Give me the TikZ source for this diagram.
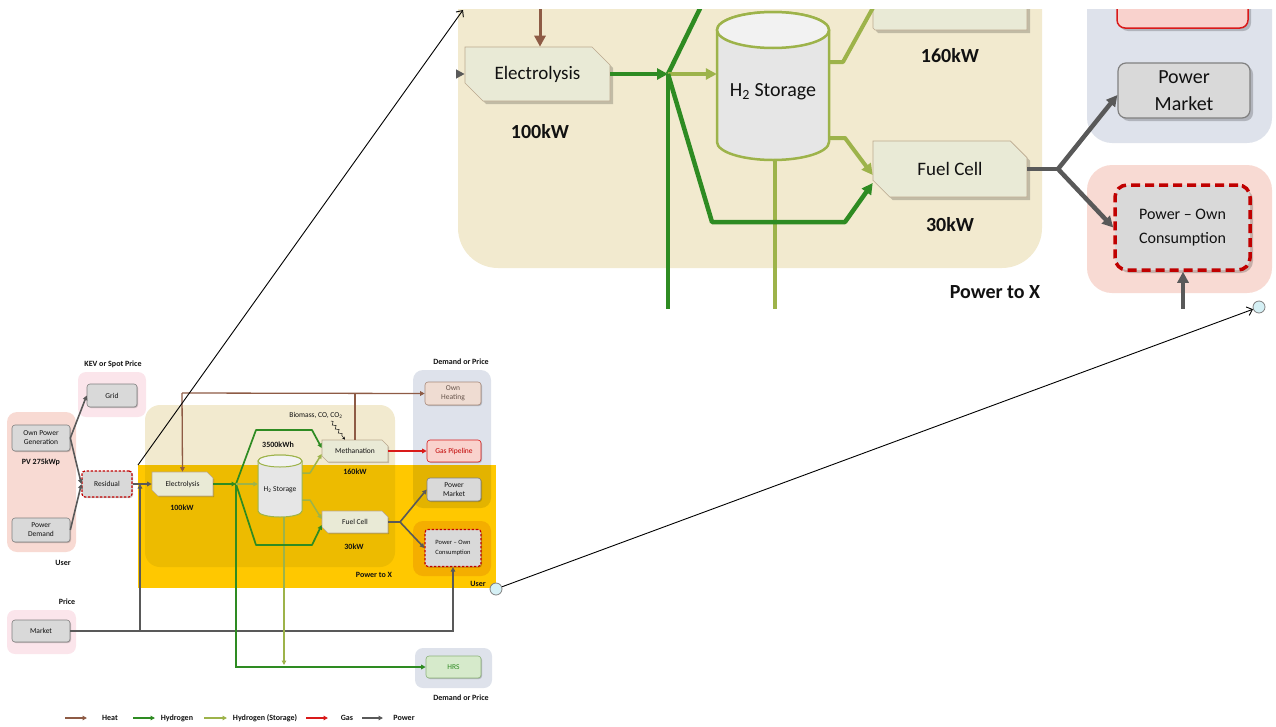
\documentclass[tikz,border=0pt]{standalone}
\usepackage{fontspec}
\setmainfont{Carlito}
\usetikzlibrary{arrows.meta,shapes.misc,shadows,decorations.pathmorphing}
\definecolor{cPow}{HTML}{595959}
\definecolor{cH}{HTML}{2E8B22}
\definecolor{cHS}{HTML}{9DB34A}
\definecolor{cHeat}{HTML}{8E5B45}
\definecolor{cGas}{HTML}{D91A1A}
\definecolor{cRed}{HTML}{C00000}
\definecolor{cProc}{HTML}{E9EAD6}
\definecolor{cProcB}{HTML}{BCA98F}
\definecolor{cGray}{HTML}{D9D9D9}
\definecolor{cGrayB}{HTML}{808080}
\definecolor{cBeige}{HTML}{F2EACF}
\definecolor{cBlue}{HTML}{DEE2EB}
\definecolor{cPink}{HTML}{F8DAD3}
\definecolor{cPinkL}{HTML}{FBE5EB}
\definecolor{cYel}{HTML}{FFC800}
\definecolor{cYelBeige}{HTML}{EDBB00}
\definecolor{cYelBlue}{HTML}{E3B300}
\definecolor{cYelPink}{HTML}{F4AE00}
\definecolor{cTxt}{HTML}{111111}
\definecolor{cCyl}{HTML}{E6E6E6}
\definecolor{cCylTop}{HTML}{F2F2F2}
\definecolor{cHRS}{HTML}{D6EACB}
\definecolor{cHRSB}{HTML}{8DB27A}
\definecolor{cHeatN}{HTML}{EFDCD2}
\definecolor{cHeatNB}{HTML}{A88A7B}
\definecolor{cGasN}{HTML}{F9D2CD}
\definecolor{cCirc}{HTML}{D5F0F5}
\newcommand\fntS{\fontsize{7.5}{9}\selectfont}
\newcommand\fntL{\bfseries\fontsize{8}{9}\selectfont}
\newcommand\fntI{\fontsize{19}{22}\selectfont}
\newcommand\fntIL{\bfseries\fontsize{20}{22}\selectfont}
% cx, ytop-ellipse-centre, ybottom-ellipse-centre, rx, ry, linewidth
\newcommand\mycyl[6]{%
  \filldraw[fill=cCyl, draw=cHS, line width=#6]
    ({#1-#4},#2) -- ({#1-#4},#3)
    arc[start angle=180, end angle=360, x radius=#4pt, y radius=#5pt]
    -- ({#1+#4},#2)
    arc[start angle=0, end angle=180, x radius=#4pt, y radius=#5pt] -- cycle;
  \filldraw[fill=cCylTop, draw=cHS, line width=#6] (#1,#2) ellipse[x radius=#4pt, y radius=#5pt];}
\tikzset{
  shd/.style={drop shadow={shadow xshift=#1, shadow yshift=-#1, opacity=.2, fill=black}},
  gbox/.style={rectangle, rounded corners=3pt, fill=cGray, draw=cGrayB, line width=.6pt,
    inner sep=1pt, align=center, text=cTxt, font=\fntS},
  pbox/.style={chamfered rectangle, chamfered rectangle corners={north east,south west},
    chamfered rectangle xsep=3pt, chamfered rectangle ysep=3pt,
    fill=cProc, draw=cProcB, line width=.6pt, inner sep=1pt, align=center, text=cTxt, font=\fntS},
  lbl/.style={font=\fntL, text=cTxt, inner sep=0pt},
  lblI/.style={font=\fntIL, text=cTxt, inner sep=0pt},
  tipS/.style={-{Triangle[length=4.5pt,width=4.5pt]}},
  tipB/.style={-{Triangle[length=11pt,width=11pt]}},
  pwS/.style={draw=cPow, line width=1.6pt},
  hS/.style={draw=cH, line width=1.7pt},
  hsS/.style={draw=cHS, line width=1.5pt},
  heatS/.style={draw=cHeat, line width=1.3pt},
  gasS/.style={draw=cGas, line width=1.8pt},
  pwB/.style={draw=cPow, line width=4.5pt},
  hB/.style={draw=cH, line width=4.5pt},
  hsB/.style={draw=cHS, line width=4pt},
  heatB/.style={draw=cHeat, line width=3pt},
  call/.style={draw=black, line width=.9pt, -{Straight Barb[length=5pt,width=9pt]}},
  conn/.style={circle, draw=cGrayB, fill=cCirc, minimum size=12pt, inner sep=0pt, line width=.8pt},
}
\begin{document}
\begin{tikzpicture}[x=1pt,y=-1pt]
\useasboundingbox (0,0) rectangle (1276,726);
%================ INSET (enlarged view) ================
\begin{scope}
\clip (456,9) rectangle (1276,308);
\fill[cBeige, rounded corners=40pt] (458,-60) rectangle (1042,268);
\fill[cBlue, rounded corners=25pt] (1087,-60) rectangle (1272,143);
\fill[cPink, rounded corners=25pt] (1087,165) rectangle (1272,293);
\node[pbox, shd=3pt, minimum width=145, minimum height=54, font=\fntI,
  chamfered rectangle xsep=9pt, chamfered rectangle ysep=9pt] (iElec) at (537.5,74) {Electrolysis};
\node[pbox, shd=3pt, minimum width=154, minimum height=54,
  chamfered rectangle xsep=9pt, chamfered rectangle ysep=9pt] (iMeth) at (950,3) {};
\node[pbox, shd=3pt, minimum width=154, minimum height=56, font=\fntI,
  chamfered rectangle xsep=9pt, chamfered rectangle ysep=9pt] (iFC) at (950,169) {Fuel Cell};
\node[gbox, shd=3pt, rounded corners=8pt, fill=cGasN, draw=cGas, line width=1.5pt,
  minimum width=131, minimum height=56] (iGas) at (1182.5,0) {};
\node[gbox, shd=3pt, rounded corners=8pt, line width=1.2pt, minimum width=132, minimum height=55,
  font=\fontsize{20}{27}\selectfont] (iPM) at (1184,90.5) {Power\\Market};
\node[gbox, shd=3pt, rounded corners=12pt, draw=cRed, dashed, dash pattern=on 9pt off 5pt,
  line width=3.5pt, minimum width=135, minimum height=85,
  font=\fontsize{16}{24}\selectfont] (iPOC) at (1182.5,227.5) {Power -- Own\\Consumption};
\node[rectangle, minimum width=112, minimum height=148, inner sep=0pt] (iStor) at (773,86) {};
\mycyl{773}{30}{142}{56}{18}{2.5pt}
\node[font=\fontsize{20}{22}\selectfont, text=cTxt] (iStorT) at (773,92) {H\textsubscript{2} Storage};
\coordinate (iHeat) at (540,0);
\coordinate (iResIn) at (430,74);
\coordinate (iJ) at (668,74);
\coordinate (iUp) at (709,-10);
\coordinate (iG1) at (712,222);
\coordinate (iG2) at (845,222);
\coordinate (iS1) at (843,62);
\coordinate (iS2) at (845,138);
\coordinate (iMethIn) at (880,-5);
\coordinate (iJ2) at (1058,169);
\coordinate (iBotG) at (668,330);
\coordinate (iBotS) at (775,330);
\coordinate (iBotP) at (1183,330);
\draw[heatB, tipB] (iHeat) -- (iHeat |- iElec.north);
\draw[pwB, tipB] (iResIn) -- (iElec.west);
\draw[hB] (iJ) -- (iBotG);
\draw[hsB] (iStor.south -| iBotS) -- (iBotS);
\draw[hB, tipB] (iElec.east) -- (iJ);
\draw[hB] (iJ) -- (iUp);
\draw[hsB, tipB] (iJ) -- (iJ -| iStor.west);
\draw[hB, tipB, line join=round] (iJ) -- (iG1) -- (iG2) -- ([yshift=-14pt]iFC.west);
\draw[hsB, line join=round] (iStor.east |- iS1) -- (iS1) -- (iMethIn);
\draw[hsB, tipB, line join=round] (iStor.east |- iS2) -- (iS2) -- ([yshift=-6pt]iFC.west);
\draw[pwB] (iFC.east) -- (iJ2);
\draw[pwB, tipB] (iJ2) -- ([yshift=-4.5pt]iPM.west);
\draw[pwB, tipB] (iJ2) -- (iPOC.west);
\draw[pwB, tipB] (iBotP) -- (iBotP |- iPOC.south);
\node[lblI] (iL1) at (540,132) {100kW};
\node[lblI] (iL2) at (950,56) {160kW};
\node[lblI] (iL3) at (950,225) {30kW};
\node[lblI] (iL4) at (995,292) {Power to X};
\end{scope}
%================ SMALL DIAGRAM ================
\fill[cPinkL, rounded corners=8pt] (78,372) rectangle (146,417);
\fill[cPink, rounded corners=10pt] (7,412) rectangle (76,552);
\fill[cPinkL, rounded corners=8pt] (7,610) rectangle (76,654);
\fill[cBeige, rounded corners=15pt] (145,405) rectangle (395,567);
\fill[cBlue, rounded corners=10pt] (413,370) rectangle (491,508);
\fill[cPink, rounded corners=10pt] (413,521) rectangle (491,576);
\fill[cBlue, rounded corners=8pt] (415,648) rectangle (492,688);
\fill[cYel] (138,465) rectangle (496,588);
\begin{scope}
\clip (138,465) rectangle (496,588);
\fill[cYelBeige, rounded corners=15pt] (145,405) rectangle (395,567);
\fill[cYelBlue, rounded corners=10pt] (413,370) rectangle (491,508);
\fill[cYelPink, rounded corners=10pt] (413,521) rectangle (491,576);
\end{scope}
% nodes
\node[gbox, shd=1pt, minimum width=50, minimum height=23] (sGrid) at (112,395.5) {Grid};
\node[gbox, shd=1pt, minimum width=58, minimum height=26] (sOPG) at (41,438) {Own Power\\Generation};
\node[gbox, shd=1pt, minimum width=58, minimum height=24] (sPD) at (41,530) {Power\\Demand};
\node[gbox, shd=1pt, draw=cRed, dashed, dash pattern=on 2.5pt off 1.5pt, line width=1.2pt,
  minimum width=50, minimum height=26] (sRes) at (107,484) {Residual};
\node[gbox, shd=1pt, minimum width=58, minimum height=22] (sMarket) at (41,631) {Market};
\node[pbox, shd=1pt, minimum width=61, minimum height=24] (sElec) at (182.5,484) {Electrolysis};
\node[pbox, shd=1pt, minimum width=66, minimum height=22] (sMeth) at (355,451) {Methanation};
\node[pbox, shd=1pt, minimum width=66, minimum height=22] (sFC) at (355,522) {Fuel Cell};
\node[rectangle, minimum width=44, minimum height=62, inner sep=0pt] (sStor) at (280,486) {};
\mycyl{280}{461}{511}{22}{6}{1pt}
\node[font=\fntS, text=cTxt] (sStorT) at (280,490) {H\textsubscript{2} Storage};
\node[gbox, shd=1pt, fill=cHeatN, draw=cHeatNB, text=cHeatNB!60!black,
  minimum width=56, minimum height=23] (sHeat) at (453,393.5) {Own\\Heating};
\node[gbox, shd=1pt, fill=cGasN, draw=cGas, text=cRed,
  minimum width=54, minimum height=22] (sGas) at (454,451) {Gas Pipeline};
\node[gbox, shd=1pt, minimum width=54, minimum height=23] (sPM) at (454,489.5) {Power\\Market};
\node[gbox, shd=1pt, draw=cRed, dashed, dash pattern=on 2.5pt off 1.5pt, line width=1.2pt,
  minimum width=56, minimum height=37, font=\fontsize{6.5}{10}\selectfont] (sPOC) at (453,548) {Power -- Own\\Consumption};
\node[gbox, shd=1pt, fill=cHRS, draw=cHRSB, text=cH,
  minimum width=55, minimum height=22] (sHRS) at (453.5,667) {HRS};
% coordinates
\coordinate (sJe) at (140,484);
\coordinate (sJm) at (140,631);
\coordinate (sHT) at (182,393);
\coordinate (sJ) at (236,484);
\coordinate (sA1) at (256,430);
\coordinate (sA2) at (312,430);
\coordinate (sB1) at (256,545);
\coordinate (sB2) at (312,545);
\coordinate (sC1) at (310,473);
\coordinate (sC2) at (310,500);
\coordinate (sHy) at (284,665);
\coordinate (sJf) at (400,522);
\coordinate (sBioT) at (331,421);
% connectors
\draw[pwS, tipS] (sOPG.east) -- (sGrid.west);
\draw[pwS, tipS] (sOPG.east) -- (sRes.west);
\draw[pwS, tipS] (sPD.east) -- (sRes.west);
\draw[pwS, tipS] (sRes.east) -- (sElec.west);
\draw[pwS, tipS] (sMarket.east) -| (sPOC.south);
\draw[pwS, tipS] (sJm) -- (sJe);
\draw[heatS, tipS] (sHT) -- (sElec.north);
\draw[heatS, tipS] (sHT) -- (sHeat.west);
\draw[heatS] (sMeth.north) -- (sMeth.north |- sHT);
\draw[gasS, tipS] (sMeth.east) -- (sGas.west);
\draw[hS, tipS] (sJ) |- (sHRS.west);
\draw[hsS, tipS] (sStor.south -| sHy) -- (sHy);
\draw[hS, tipS] (sElec.east) -- (sJ);
\draw[hS, tipS, line join=round] (sJ) -- (sA1) -- (sA2) -- ([yshift=3pt]sMeth.west);
\draw[hS, tipS, line join=round] (sJ) -- (sB1) -- (sB2) -- ([yshift=-3pt]sFC.west);
\draw[hsS, tipS] (sJ) -- (sJ -| sStor.west);
\draw[hsS, tipS, line join=round] (sStor.east |- sC1) -- (sC1) -- ([yshift=-3pt]sMeth.west);
\draw[hsS, tipS, line join=round] (sStor.east |- sC2) -- (sC2) -- ([yshift=3pt]sFC.west);
\draw[pwS] (sFC.east) -- (sJf);
\draw[pwS, tipS] (sJf) -- (sPM.west);
\draw[pwS, tipS] (sJf) -- (sPOC.west);
\draw[draw=cTxt, line width=.5pt, decorate,
  decoration={snake, amplitude=1.5pt, segment length=5pt, post length=3pt},
  -{Stealth[length=3pt,width=3pt]}] (sBioT) -- ([xshift=-10pt]sMeth.north);
% labels
\node[lbl] (tKEV) at (113,364) {KEV or Spot Price};
\node[lbl] (tPV) at (41,462) {PV 275kWp};
\node[lbl] (tUser1) at (63,563) {User};
\node[lbl] (tPrice) at (67,602) {Price};
\node[lbl] (t100) at (182,508) {100kW};
\node[lbl] (t3500) at (278,445) {3500kWh};
\node[lbl] (t160) at (355,472) {160kW};
\node[lbl] (t30) at (354,547) {30kW};
\node[lbl] (tP2X) at (374,575) {Power to X};
\node[lbl] (tUser2) at (478,584) {User};
\node[lbl] (tDP1) at (461,362) {Demand or Price};
\node[lbl] (tDP2) at (461,698) {Demand or Price};
\node[font=\fntS, text=cTxt, inner sep=0pt] (tBio) at (316,415) {Biomass, CO, CO\textsubscript{2}};
% legend
\coordinate (lg1a) at (65,718); \coordinate (lg1b) at (87,718);
\coordinate (lg2a) at (133,718); \coordinate (lg2b) at (155,718);
\coordinate (lg3a) at (204,718); \coordinate (lg3b) at (227,718);
\coordinate (lg4a) at (306,718); \coordinate (lg4b) at (328,718);
\coordinate (lg5a) at (362,718); \coordinate (lg5b) at (383,718);
\draw[heatS, tipS] (lg1a) -- (lg1b);
\draw[hS, tipS] (lg2a) -- (lg2b);
\draw[hsS, tipS] (lg3a) -- (lg3b);
\draw[gasS, tipS] (lg4a) -- (lg4b);
\draw[pwS, tipS] (lg5a) -- (lg5b);
\node[lbl] (lgT1) at (110,718) {Heat};
\node[lbl] (lgT2) at (177,718) {Hydrogen};
\node[lbl] (lgT3) at (265,718) {Hydrogen (Storage)};
\node[lbl] (lgT4) at (347,718) {Gas};
\node[lbl] (lgT5) at (404,718) {Power};
% callouts
\node[conn] (sCirc) at (496,589) {};
\node[conn] (bCirc) at (1259,307) {};
\coordinate (cA) at (138,465);
\coordinate (cB) at (463,10);
\draw[call] (cA) -- (cB);
\draw[call] (sCirc) -- (bCirc);
\end{tikzpicture}
\end{document}
